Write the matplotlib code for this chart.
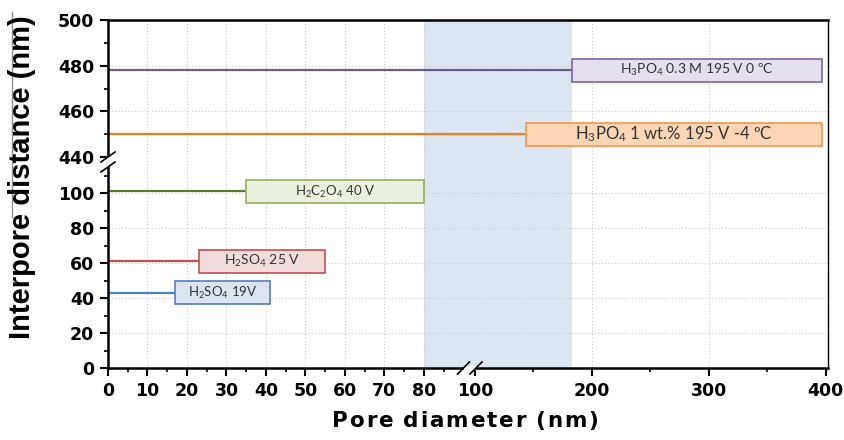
import numpy as np
import matplotlib
matplotlib.use("Agg")
import matplotlib.pyplot as plt
from matplotlib.patches import Rectangle
from matplotlib.lines import Line2D
from matplotlib.ticker import FixedLocator

plt.rcParams['mathtext.default'] = 'regular'

# data
labels = [r"H$_2$SO$_4$ 19V", r"H$_2$SO$_4$ 25 V", r"H$_2$C$_2$O$_4$ 40 V",
          r"H$_3$PO$_4$ 1 wt.% 195 V -4 ºC", r"H$_3$PO$_4$ 0.3 M 195 V 0 ºC"]
interpore = [43, 61, 101, 450, 478]      # nm
line_end = [17, 23, 35, 144, 183]        # pore diameter where the label box starts
box_end = [41, 55, 80, 397, 397]
shade_span = (80, 183)

xticks_major = [0, 10, 20, 30, 40, 50, 60, 70, 80, 100, 200, 300, 400]
xticks_minor = [5, 15, 25, 35, 45, 55, 65, 75, 85, 150, 250, 350]
yticks_major = [0, 20, 40, 60, 80, 100, 440, 460, 480, 500]
yticks_minor = [10, 30, 50, 70, 90, 110, 450, 470, 490]

line_colors = ['#4f81bd', '#c0504d', '#5f7a30', '#f47a20', '#6a5a90']
box_faces = ['#dbe5f1', '#f2dcdb', '#ebf1de', '#fcd5b4', '#e4dfec']
box_edges = ['#4f81bd', '#c0504d', '#93b05a', '#f79646', '#8064a2']
label_sizes = [9.5, 10, 9.5, 12, 10]


def piecewise(xp, fp):
    xp = np.asarray(xp, float)
    fp = np.asarray(fp, float)
    s0 = (fp[1] - fp[0]) / (xp[1] - xp[0])
    s1 = (fp[-1] - fp[-2]) / (xp[-1] - xp[-2])

    def f(v):
        v = np.asarray(v, float)
        out = np.interp(v, xp, fp)
        out = np.where(v < xp[0], fp[0] + (v - xp[0]) * s0, out)
        out = np.where(v > xp[-1], fp[-1] + (v - xp[-1]) * s1, out)
        return out
    return f


# broken axes as piecewise linear scales
xb, xs = [0, 88, 100, 400], [0, 347.6, 367, 718]
yb, ys = [0, 115, 440, 500], [0, 201, 211, 348]

fig = plt.figure(figsize=(8.45, 4.4), dpi=100)
ax = fig.add_axes([108 / 845, 1 - 368 / 440, 720 / 845, 348 / 440])
ax.set_xscale('function', functions=(piecewise(xb, xs), piecewise(xs, xb)))
ax.set_yscale('function', functions=(piecewise(yb, ys), piecewise(ys, yb)))
ax.set_xlim(0, 402)
ax.set_ylim(0, 500)

ax.axvspan(*shade_span, color='#dce6f2', lw=0, zorder=0.2)

for gx in xticks_major[1:9] + [200, 300]:
    ax.axvline(gx, color='#c8c8c8', lw=0.8, ls=(0, (1, 2)), zorder=0.5)
for gy in [20, 40, 60, 80, 100, 460, 480]:
    ax.axhline(gy, color='#c8c8c8', lw=0.8, ls=(0, (1, 2)), zorder=0.5)

for lab, y, x1, x2, lc, fc, ec, fs in zip(labels, interpore, line_end, box_end,
                                           line_colors, box_faces, box_edges, label_sizes):
    ax.plot([0, x1], [y, y], color=lc, lw=1.6, zorder=2, solid_capstyle='butt')
    yc = ax.transData.transform((0, y))[1]
    inv = ax.transData.inverted()
    y0 = inv.transform((0, yc - 11.5))[1]
    y1 = inv.transform((0, yc + 11.5))[1]
    ax.add_patch(Rectangle((x1, y0), x2 - x1, y1 - y0, facecolor=fc, edgecolor=ec,
                           lw=1.2, zorder=3))
    xm = ax.transData.transform([(x1, y), (x2, y)])[:, 0].mean()
    ax.text(inv.transform((xm, yc))[0], y, lab, ha='center', va='center',
            fontsize=fs, family='Lato', color='#333333', zorder=4)

# ticks
ax.xaxis.set_major_locator(FixedLocator(xticks_major))
ax.xaxis.set_minor_locator(FixedLocator(xticks_minor))
ax.yaxis.set_major_locator(FixedLocator(yticks_major))
ax.yaxis.set_minor_locator(FixedLocator(yticks_minor))
ax.set_xticklabels([str(t) for t in xticks_major])
ax.set_yticklabels([str(t) for t in yticks_major])
ax.tick_params(which='major', direction='out', length=6, width=1.5, pad=4,
               labelsize=12.5)
ax.tick_params(which='minor', direction='out', length=3, width=1.2)
for lbl in ax.get_xticklabels() + ax.get_yticklabels():
    lbl.set_fontweight('bold')
    lbl.set_family('DejaVu Sans')

for side in ['left', 'bottom', 'top']:
    ax.spines[side].set_linewidth(1.8)
ax.spines['right'].set_linewidth(1.0)

# break marks on both axes
brk = dict(color='black', lw=1.2, clip_on=False, zorder=6)
for yv in [115, 440]:
    yc = ax.transData.transform((0, yv))[1]
    xa = ax.transAxes.transform((0, 0))[0]
    pts = fig.transFigure.inverted().transform([(xa - 7, yc - 5), (xa + 7, yc + 5)])
    fig.add_artist(Line2D(pts[:, 0], pts[:, 1], **brk))
yc0, yc1 = ax.transData.transform([(0, 115), (0, 440)])[:, 1]
xa = ax.transAxes.transform((0, 0))[0]
pts = fig.transFigure.inverted().transform([(xa, yc0 + 2), (xa, yc1 - 2)])
fig.add_artist(Line2D(pts[:, 0], pts[:, 1], color='white', lw=3, zorder=5))

for xv in [93, 101]:
    xc = ax.transData.transform((xv, 0))[0]
    ya = ax.transAxes.transform((0, 0))[1]
    pts = fig.transFigure.inverted().transform([(xc - 6, ya - 6), (xc + 6, ya + 6)])
    fig.add_artist(Line2D(pts[:, 0], pts[:, 1], **brk))
xc0, xc1 = ax.transData.transform([(93, 0), (101, 0)])[:, 0]
ya = ax.transAxes.transform((0, 0))[1]
pts = fig.transFigure.inverted().transform([(xc0 + 2, ya), (xc1 - 2, ya)])
fig.add_artist(Line2D(pts[:, 0], pts[:, 1], color='white', lw=3, zorder=5))

# axis titles
fig.text(22 / 845, 1 - 177 / 440, 'Interpore distance (nm)', rotation=90,
         ha='center', va='center', fontsize=21, fontweight='bold',
         family='Liberation Sans')
fig.add_artist(Line2D([12 / 845, 12 / 845], [1 - 12 / 440, 1 - 217 / 440],
                      color='#909090', lw=1))

# x title, slightly letter-spaced
xtitle = 'Pore diameter (nm)'
renderer = fig.canvas.get_renderer()
kw = dict(fontsize=15.5, fontweight='bold', family='DejaVu Sans')
widths = []
for ch in xtitle:
    if ch == ' ':
        widths.append(6)
        continue
    t = fig.text(0, 0, ch, **kw)
    widths.append(t.get_window_extent(renderer).width)
    t.remove()
gap = max(0.0, (266 - sum(widths)) / (len(xtitle) - 1))
xpos = 332
for ch, w in zip(xtitle, widths):
    if ch != ' ':
        fig.text(xpos / 845, 1 - 427 / 440, ch, ha='left', va='baseline', **kw)
    xpos += w + gap

fig.savefig('out.png', dpi=100)
